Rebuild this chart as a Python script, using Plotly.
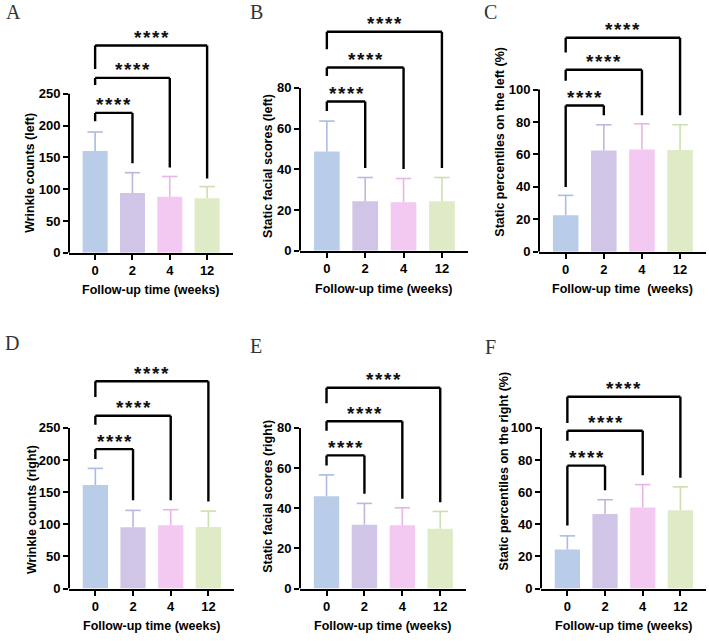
import plotly.graph_objects as go

# ---------------- data ----------------
weeks = ["0", "2", "4", "12"]

a_mean = [160, 94, 88, 85.6]
a_sd = [30, 32, 32, 18.5]
b_mean = [48.8, 24.4, 23.9, 24.4]
b_sd = [14.9, 11.6, 11.6, 11.6]
c_mean = [22.5, 62.5, 63.1, 62.7]
c_sd = [12.3, 15.8, 15.8, 15.6]
d_mean = [161.3, 95.4, 98.5, 95.9]
d_sd = [25.7, 26.2, 24.2, 24.7]
e_mean = [46, 31.8, 31.5, 29.8]
e_sd = [10.6, 10.6, 8.7, 8.6]
f_mean = [24.3, 46.4, 50.5, 48.7]
f_sd = [8.5, 8.9, 14.2, 14.6]

a_ticks = [0, 50, 100, 150, 200, 250]
b_ticks = [0, 20, 40, 60, 80]
c_ticks = [0, 20, 40, 60, 80, 100]

stars = "*\u200a*\u200a*\u200a*"

# significance brackets (compare week 0 with weeks 2, 4, 12): top, left-leg end, right-leg end
a_br_top = [220, 275, 326]; a_br_left = [207, 264, 289]; a_br_right = [141, 134, 117]
b_br_top = [73.3, 90, 107.6]; b_br_left = [68.6, 85.8, 99]; b_br_right = [40.7, 40.2, 40.7]
c_br_top = [90.2, 112.2, 131.9]; c_br_left = [40, 105.5, 122.8]; c_br_right = [84.2, 84.2, 84.2]
d_br_top = [217, 269, 322.6]; d_br_left = [201.5, 255, 298]; d_br_right = [137.6, 137.6, 135.6]
e_br_top = [66.3, 83.3, 100]; e_br_left = [61.3, 78.6, 92.3]; e_br_right = [47.2, 44.7, 43]
f_br_top = [76.5, 98.2, 119.4]; f_br_left = [39.3, 92, 103]; f_br_right = [61.2, 70.5, 69]

panels = [
    dict(letter="A", mean=a_mean, sd=a_sd, ticks=a_ticks, ytitle="Wrinkle counts (left)",
         xtitle="Follow-up time (weeks)", top=a_br_top, left=a_br_left, right=a_br_right),
    dict(letter="B", mean=b_mean, sd=b_sd, ticks=b_ticks, ytitle="Static facial scores (left)",
         xtitle="Follow-up time (weeks)", top=b_br_top, left=b_br_left, right=b_br_right),
    dict(letter="C", mean=c_mean, sd=c_sd, ticks=c_ticks, ytitle="Static percentiles on the left (%)",
         xtitle="Follow-up time\u00a0 (weeks)", top=c_br_top, left=c_br_left, right=c_br_right),
    dict(letter="D", mean=d_mean, sd=d_sd, ticks=a_ticks, ytitle="Wrinkle counts (right)",
         xtitle="Follow-up time (weeks)", top=d_br_top, left=d_br_left, right=d_br_right),
    dict(letter="E", mean=e_mean, sd=e_sd, ticks=b_ticks, ytitle="Static facial scores (right)",
         xtitle="Follow-up time (weeks)", top=e_br_top, left=e_br_left, right=e_br_right),
    dict(letter="F", mean=f_mean, sd=f_sd, ticks=c_ticks, ytitle="Static percentiles on the right (%)",
         xtitle="Follow-up time (weeks)", top=f_br_top, left=f_br_left, right=f_br_right),
]

# ---------------- layout geometry (pixels) ----------------
W, H = 709, 641
# x_left, x_right, y_bottom, y_top_of_domain, pixel of top tick
geom = [
    (69, 232.5, 256, 18, 95),
    (300, 468, 254, 18, 89),
    (539, 706, 255, 18, 90.7),
    (69, 234, 596, 360, 433.3),
    (300, 466, 596, 360, 433.3),
    (541, 706, 596, 360, 433.3),
]
ytitle_pos = [(30, 175), (268, 168), (500, 143.5), (31.5, 516), (268, 503), (504, 477.5)]
xtitle_y = [294, 293, 293, 634, 634, 634]
letter_pos = [(4, 12), (248, 12), (482, 12), (3, 347), (248, 350), (483, 351)]

bar_colors = ["#b9cde9", "#d0c5e7", "#f3c9f1", "#deebc6"]
err_colors = ["#a9bde2", "#c2b3df", "#e9b5e6", "#cddfb0"]

XR = [-0.7, 3.68]
BASE = "Liberation Sans, Arial, sans-serif"

fig = go.Figure()
shapes = []
annotations = []

def px2x(p):
    return p / W

def px2y(p):
    return 1 - p / H

for i, (p, g) in enumerate(zip(panels, geom)):
    n = "" if i == 0 else str(i + 1)
    xa, ya = "x" + n, "y" + n
    xl, xr, yb, yt, ytick = g
    tmax = p["ticks"][-1]
    ymax = tmax * (yb - yt) / (yb - ytick)
    xpos = list(range(len(weeks)))
    for k in range(len(weeks)):
        fig.add_trace(go.Bar(
            x=[xpos[k]], y=[p["mean"][k]], width=0.67,
            marker=dict(color=bar_colors[k], line=dict(width=0)),
            xaxis=xa, yaxis=ya, showlegend=False, hoverinfo="skip"))
        top = p["mean"][k] + p["sd"][k]
        # upward error whisker
        fig.add_trace(go.Scatter(
            x=[xpos[k], xpos[k]], y=[p["mean"][k], top], mode="lines",
            line=dict(color=err_colors[k], width=1.6),
            xaxis=xa, yaxis=ya, showlegend=False, hoverinfo="skip"))
        # cap
        fig.add_trace(go.Scatter(
            x=[xpos[k]], y=[top], mode="markers",
            marker=dict(symbol="line-ew", size=11, line=dict(color=err_colors[k], width=1.6)),
            xaxis=xa, yaxis=ya, showlegend=False, hoverinfo="skip", cliponaxis=False))
    fig.update_layout(**{
        ("xaxis" + n): dict(domain=[px2x(xl), px2x(xr)], anchor=ya, range=XR,
                            tickvals=xpos, ticktext=weeks, showline=True, linecolor="black",
                            linewidth=2, ticks="outside", ticklen=5, tickwidth=2, tickcolor="black",
                            showgrid=False, zeroline=False,
                            tickfont=dict(family=BASE, size=13, color="black", weight="bold")),
        ("yaxis" + n): dict(domain=[px2y(yb), px2y(yt)], anchor=xa, range=[0, ymax],
                            tickvals=p["ticks"], showline=False, ticks="outside", ticklen=5,
                            tickwidth=2, tickcolor="black", showgrid=False, zeroline=False,
                            tickfont=dict(family=BASE, size=13, color="black", weight="bold")),
    })
    # y axis line only up to top tick
    shapes.append(dict(type="line", xref=xa + " domain", yref=ya, x0=0, x1=0, y0=0, y1=tmax,
                       line=dict(color="black", width=2)))
    # brackets
    for j in range(3):
        x0, x1 = xpos[0], xpos[j + 1]
        ytop = p["top"][j]
        for (ax0, ay0, ax1, ay1) in [(x0, p["left"][j], x0, ytop), (x0, ytop, x1, ytop),
                                     (x1, ytop, x1, p["right"][j])]:
            shapes.append(dict(type="line", xref=xa, yref=ya, x0=ax0, y0=ay0, x1=ax1, y1=ay1,
                               line=dict(color="black", width=2.4)))
        annotations.append(dict(x=(x0 + x1) / 2, y=ytop, xref=xa, yref=ya, text=stars,
                                showarrow=False, yanchor="middle", yshift=8,
                                font=dict(family=BASE, size=19, color="#111", weight="bold")))
    # axis titles
    tx, ty = ytitle_pos[i]
    annotations.append(dict(x=px2x(tx), y=px2y(ty), xref="paper", yref="paper", text=p["ytitle"],
                            textangle=-90, showarrow=False, xanchor="center", yanchor="middle",
                            font=dict(family=BASE, size=12.5, color="black", weight="bold")))
    annotations.append(dict(x=px2x((xl + xr) / 2), y=px2y(xtitle_y[i]), xref="paper", yref="paper",
                            text=p["xtitle"], showarrow=False, xanchor="center", yanchor="middle",
                            font=dict(family=BASE, size=12.5, color="black", weight="bold")))
    lx, ly = letter_pos[i]
    annotations.append(dict(x=px2x(lx), y=px2y(ly), xref="paper", yref="paper", text=p["letter"],
                            showarrow=False, xanchor="left", yanchor="middle",
                            font=dict(family="Liberation Serif, Times New Roman, serif", size=20,
                                      color="#333")))

fig.update_layout(width=W, height=H, margin=dict(l=0, r=0, t=0, b=0),
                  paper_bgcolor="white", plot_bgcolor="white", barmode="overlay",
                  shapes=shapes, annotations=annotations, showlegend=False)

fig.write_html("out.html")
